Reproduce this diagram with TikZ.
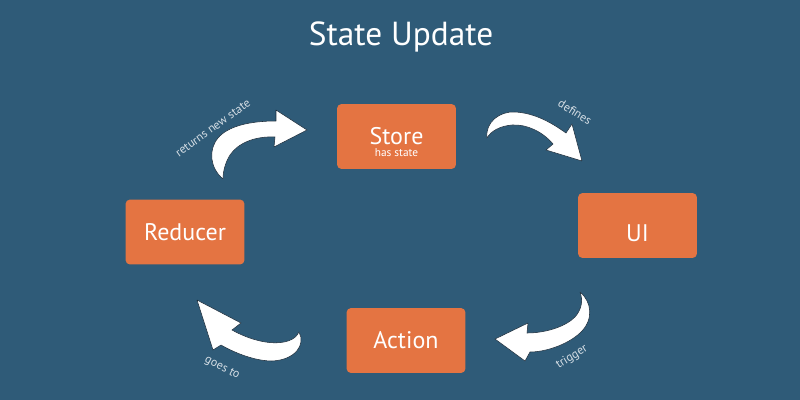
\documentclass[tikz,border=0pt]{standalone}
\usepackage{fontspec}
\setmainfont{PT Sans}
\usepackage{xcolor}
\usetikzlibrary{positioning}
\definecolor{bgblue}{HTML}{2F5B78}
\definecolor{boxorange}{HTML}{E47442}
\definecolor{edgedark}{HTML}{1C2C3A}
\definecolor{labgrey}{HTML}{D5DEE5}

\begin{document}
\begin{tikzpicture}[x=0.75pt,y=-0.75pt,
  box/.style={fill=boxorange,rounded corners=3pt,minimum width=89pt,minimum height=48.5pt,
    inner sep=0pt,text=white,font=\fontsize{18}{20}\selectfont},
  boxtext/.style={anchor=base,inner sep=0pt,text=white,font=\fontsize{18}{20}\selectfont},
  flowarrow/.style={fill=white,draw=edgedark,line width=0.4pt,line join=round},
  lab/.style={text=labgrey,inner sep=0pt,font=\fontsize{9}{10}\selectfont}]
\fill[bgblue] (0,0) rectangle (800,400);
\node[anchor=base,text=white,font=\fontsize{25}{30}\selectfont] (title) at (401,45) {State Update};
% the four states
\node[box] (store) at (396.5,136.5) {};
\node[boxtext] (storename) at (396.5,144) {Store};
\node[anchor=base,inner sep=0pt,text=white,font=\fontsize{8.5}{10}\selectfont] (storenote) at (396.5,156) {has state};
\node[box] (ui) at (637.5,225.5) {};
\node[boxtext] (uiname) at (637.5,241) {UI};
\node[box] (action) at (406,340.5) {Action};
\node[box] (reducer) at (185,232) {Reducer};
% curved arrows
\draw[flowarrow] (223,179) .. controls (210,168) and (208,150) .. (218,138)
  .. controls (228,126) and (250,121) .. (276,121) -- (276,110) -- (307,130) -- (274,147) -- (275,137)
  .. controls (255,136) and (238,143) .. (230,155) .. controls (225,163) and (223,172) .. (223,179) -- cycle;
\draw[flowarrow] (487,138) .. controls (485,122) and (500,111) .. (515,112)
  .. controls (535,113) and (552,123) .. (566,133) -- (572,124) -- (582,161) -- (546,150) -- (553,144)
  .. controls (543,132) and (527,124) .. (512,125) .. controls (500,126) and (491,131) .. (487,138) -- cycle;
\draw[flowarrow] (580,292) .. controls (592,302) and (594,320) .. (580,333)
  .. controls (567,345) and (545,352) .. (530,352) -- (525,361) -- (495,339) -- (528,323) -- (527,333)
  .. controls (545,333) and (565,327) .. (575,317) .. controls (582,309) and (583,300) .. (580,292) -- cycle;
\draw[flowarrow] (299,332) .. controls (306,345) and (295,360) .. (272,361)
  .. controls (255,361) and (235,353) .. (221,345) -- (213,350) -- (197,300) -- (241,323) -- (232,330)
  .. controls (250,340) and (272,346) .. (288,341) .. controls (294,339) and (297,336) .. (299,332) -- cycle;
% arrow labels
\node[lab,rotate=36] (retlab) at (213,128) {returns new state};
\node[lab,rotate=-32] (deflab) at (575,112) {defines};
\node[lab,rotate=32] (triglab) at (572,357) {trigger};
\node[lab,rotate=-28] (goeslab) at (222,368) {goes to};
\end{tikzpicture}
\end{document}
